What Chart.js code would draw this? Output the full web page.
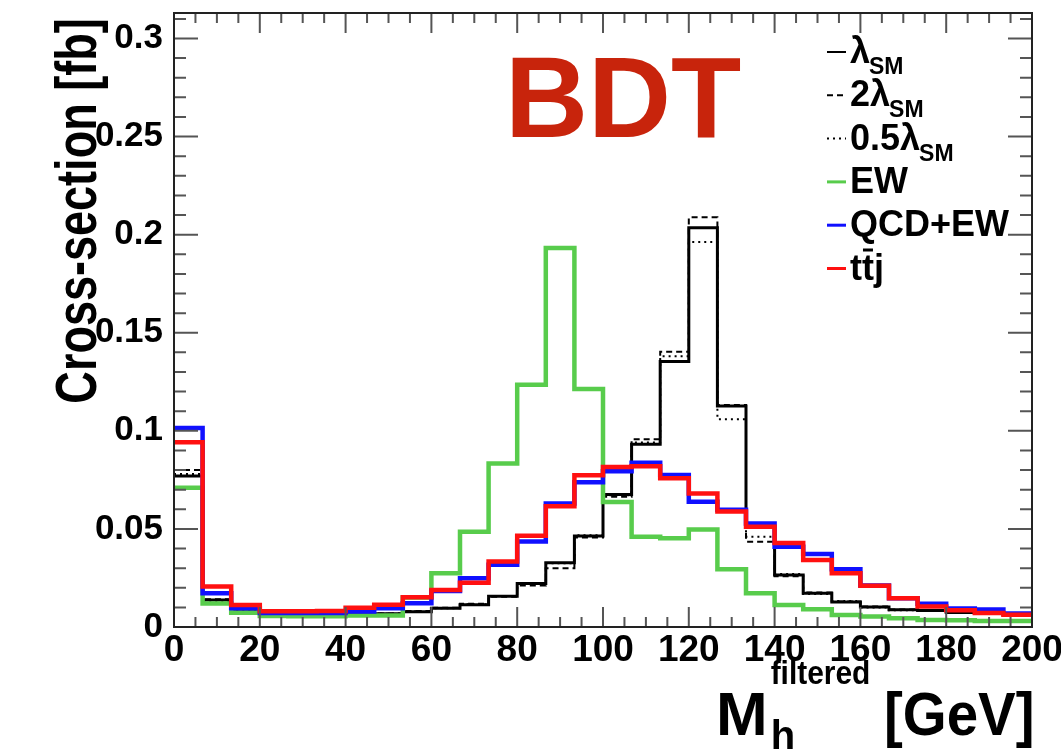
<!DOCTYPE html>
<html>
<head>
<meta charset="utf-8">
<script src="https://cdn.jsdelivr.net/npm/chart.js@4.4.1/dist/chart.umd.min.js"></script>
<style>
  html, body { margin: 0; padding: 0; background: #fff; }
</style>
</head>
<body>
<canvas id="graficoMh" width="1061" height="749"></canvas>
<script>
// histogram binning: 30 bins from 0 to 200 GeV
const nBins = 30;
const xMin = 0;
const xMax = 200;
const xTickValues = [0, 20, 40, 60, 80, 100, 120, 140, 160, 180, 200];
const yTickValues = [0, 0.05, 0.1, 0.15, 0.2, 0.25, 0.3];

// cross-section per bin [fb]
const lambdaSM = [0.077, 0.0138, 0.0090, 0.0066, 0.0063, 0.0063, 0.0064, 0.0067, 0.0078, 0.0095,
                  0.0114, 0.0157, 0.0222, 0.0328, 0.0464, 0.0676, 0.0931, 0.1354, 0.2035, 0.1126,
                  0.0511, 0.0265, 0.0172, 0.0127, 0.0102, 0.0088, 0.0084, 0.0074, 0.0071, 0.0065];
const lambda2SM = [0.080, 0.0142, 0.0092, 0.0066, 0.0064, 0.0062, 0.0066, 0.0069, 0.0081, 0.0098,
                   0.0119, 0.0154, 0.0212, 0.0300, 0.0456, 0.0664, 0.0957, 0.1403, 0.2089, 0.1132,
                   0.0435, 0.0259, 0.0176, 0.0130, 0.0104, 0.0089, 0.0082, 0.0076, 0.0068, 0.0063];
const lambdaHalfSM = [0.078, 0.0134, 0.0088, 0.0065, 0.0062, 0.0064, 0.0065, 0.0068, 0.0079, 0.0096,
                      0.0116, 0.0158, 0.0224, 0.0325, 0.0468, 0.0672, 0.0940, 0.1380, 0.1963, 0.1059,
                      0.0460, 0.0270, 0.0168, 0.0133, 0.0099, 0.0085, 0.0085, 0.0072, 0.0072, 0.0064];
const ewBkg = [0.071, 0.0120, 0.0073, 0.0056, 0.0055, 0.0055, 0.0058, 0.0059, 0.0150, 0.0274,
               0.0486, 0.0834, 0.1235, 0.1932, 0.1213, 0.0637, 0.0460, 0.0452, 0.0497, 0.0294,
               0.0172, 0.0112, 0.0090, 0.0061, 0.0053, 0.0044, 0.0036, 0.0035, 0.0031, 0.0030];
const qcdEwBkg = [0.1015, 0.0172, 0.0096, 0.0071, 0.0071, 0.0072, 0.0079, 0.0095, 0.0121, 0.0183,
                  0.0248, 0.0317, 0.0436, 0.0629, 0.0738, 0.0794, 0.0837, 0.0775, 0.0639, 0.0598,
                  0.0528, 0.0409, 0.0372, 0.0294, 0.0212, 0.0146, 0.0119, 0.0094, 0.0089, 0.0069];
const ttjBkg = [0.0942, 0.0206, 0.0112, 0.0080, 0.0080, 0.0081, 0.0098, 0.0113, 0.0152, 0.0189,
                0.0225, 0.0334, 0.0465, 0.0615, 0.0774, 0.0816, 0.0820, 0.0758, 0.0681, 0.0589,
                0.0511, 0.0428, 0.0342, 0.0274, 0.0210, 0.0146, 0.0104, 0.0086, 0.0072, 0.0062];

const legendNames = ['λ', '2λ', '0.5λ', 'EW', 'QCD+EW', 'tt\u0304j'];
const legendSubs = ['SM', 'SM', 'SM', '', '', ''];

const FONT = '"Liberation Sans", Arial, Helvetica, sans-serif';

const binEdges = [];
for (let i = 0; i <= nBins; i++) binEdges.push(xMin + i * (xMax - xMin) / nBins);

// step points on the left bin edges, last value repeated at the right edge
function histo(vals) {
  return binEdges.map((e, i) => ({ x: e, y: vals[Math.min(i, vals.length - 1)] }));
}

function serie(label, vals, color, width, dash, order) {
  return {
    label: label,
    data: histo(vals),
    borderColor: color,
    borderWidth: width,
    borderDash: dash,
    stepped: 'before',
    pointRadius: 0,
    fill: false,
    order: order
  };
}

const datasets = [
  serie(legendNames[0], lambdaSM, '#000000', 3, [], 3),
  serie(legendNames[1], lambda2SM, '#000000', 2, [6, 4], 4),
  serie(legendNames[2], lambdaHalfSM, '#000000', 2, [2, 4], 5),
  serie(legendNames[3], ewBkg, '#58cc4c', 4.5, [], 2),
  serie(legendNames[4], qcdEwBkg, '#1010ff', 4.5, [], 1),
  serie(legendNames[5], ttjBkg, '#ff1010', 4.5, [], 0)
];

// text squeezed horizontally, like the condensed Helvetica of the original
function narrowText(ctx, txt, x, y, sx) {
  ctx.save();
  ctx.translate(x, y);
  ctx.scale(sx, 1);
  ctx.fillText(txt, 0, 0);
  ctx.restore();
}

// label with a combining macron: draw the letters, then the bar by hand
function barText(ctx, txt, x, y) {
  const k = txt.indexOf('\u0304');
  if (k < 0) { ctx.fillText(txt, x, y); return ctx.measureText(txt).width; }
  const plain = txt.replace('\u0304', '');
  ctx.fillText(plain, x, y);
  const x0 = x + ctx.measureText(plain.slice(0, k - 1)).width;
  const x1 = x + ctx.measureText(plain.slice(0, k)).width;
  ctx.fillRect(x0 + 1, y - 31, x1 - x0 - 2, 3);
  return ctx.measureText(plain).width;
}

// ROOT-style frame, inner ticks, legend and titles
const rootStyle = {
  id: 'rootStyle',
  afterDatasetsDraw(chart) {
    const ctx = chart.ctx;
    const { left, right, top, bottom } = chart.chartArea;
    const xs = chart.scales.x, ys = chart.scales.y;
    ctx.save();

    ctx.strokeStyle = '#555';
    ctx.lineWidth = 2;
    for (let k = 0; k <= 31; k++) {
      const y = ys.getPixelForValue(k / 100);
      const len = k % 5 === 0 ? 24 : 12;
      ctx.beginPath();
      ctx.moveTo(left, y); ctx.lineTo(left + len, y);
      ctx.moveTo(right, y); ctx.lineTo(right - len, y);
      ctx.stroke();
    }
    for (let k = 0; k <= 40; k++) {
      const x = xs.getPixelForValue(k * 5);
      const len = k % 4 === 0 ? 20 : 10;
      ctx.beginPath();
      ctx.moveTo(x, bottom); ctx.lineTo(x, bottom - len);
      ctx.moveTo(x, top); ctx.lineTo(x, top + len);
      ctx.stroke();
    }
    ctx.strokeStyle = '#222';
    ctx.lineWidth = 2;
    ctx.strokeRect(left, top, right - left, bottom - top);

    // legend
    const legX = 827, legY0 = 52, legDy = 43.3;
    chart.data.datasets.forEach((ds, i) => {
      const y = legY0 + i * legDy;
      ctx.strokeStyle = ds.borderColor;
      ctx.lineWidth = ds.borderColor === '#000000' ? 2 : 3;
      ctx.setLineDash(ds.borderDash);
      ctx.beginPath();
      ctx.moveTo(legX, y); ctx.lineTo(legX + 19, y);
      ctx.stroke();
      ctx.setLineDash([]);
      ctx.fillStyle = '#000';
      ctx.textAlign = 'left';
      ctx.textBaseline = 'alphabetic';
      ctx.font = 'bold 36px ' + FONT;
      const w = barText(ctx, ds.label, legX + 23, y + 11);
      if (legendSubs[i]) {
        ctx.font = 'bold 23px ' + FONT;
        ctx.fillText(legendSubs[i], legX + 22 + w, y + 22);
      }
    });

    // BDT tag
    ctx.fillStyle = '#c8240c';
    ctx.font = 'bold 115px ' + FONT;
    ctx.fillText('BDT', 505, 137);

    // y title
    ctx.fillStyle = '#000';
    ctx.save();
    ctx.translate(96, 211);
    ctx.rotate(-Math.PI / 2);
    ctx.textAlign = 'center';
    ctx.font = 'bold 57px ' + FONT;
    narrowText(ctx, 'Cross-section [fb]', 0, 0, 0.79);
    ctx.restore();

    // x title
    ctx.textAlign = 'left';
    ctx.font = 'bold 62px ' + FONT;
    ctx.fillText('M', 716, 735);
    const wM = ctx.measureText('M').width;
    ctx.font = 'bold 34px ' + FONT;
    narrowText(ctx, 'filtered', 716 + wM + 3, 684, 0.88);
    ctx.font = 'bold 40px ' + FONT;
    ctx.fillText('h', 716 + wM + 3, 749);
    ctx.font = 'bold 62px ' + FONT;
    narrowText(ctx, '[GeV]', 884, 735, 0.91);

    ctx.restore();
  }
};

new Chart(document.getElementById('graficoMh'), {
  type: 'line',
  data: { datasets: datasets },
  options: {
    responsive: false,
    devicePixelRatio: 1,
    animation: false,
    layout: { padding: { left: 0, top: 13, right: 29, bottom: 0 } },
    plugins: {
      legend: { display: false },
      tooltip: { enabled: false }
    },
    scales: {
      x: {
        type: 'linear',
        min: xMin,
        max: xMax,
        grid: { display: false, drawTicks: false },
        border: { display: false },
        afterBuildTicks: (s) => { s.ticks = xTickValues.map(v => ({ value: v })); },
        afterFit: (s) => { s.height = 122; s.paddingLeft = 0; s.paddingRight = 0; },
        ticks: {
          autoSkip: false,
          maxRotation: 0,
          padding: 2,
          color: '#000',
          font: { family: FONT, size: 37, weight: 'bold' },
          callback: (v) => String(v)
        }
      },
      y: {
        min: 0,
        max: 0.313,
        grid: { display: false, drawTicks: false },
        border: { display: false },
        afterBuildTicks: (s) => { s.ticks = yTickValues.map(v => ({ value: v })); },
        afterFit: (s) => { s.width = 174; s.paddingTop = 0; s.paddingBottom = 0; },
        ticks: {
          autoSkip: false,
          padding: 11,
          color: '#000',
          font: { family: FONT, size: 35, weight: 'bold' },
          callback: (v) => String(+v.toFixed(2))
        }
      }
    }
  },
  plugins: [rootStyle]
});
</script>
</body>
</html>
